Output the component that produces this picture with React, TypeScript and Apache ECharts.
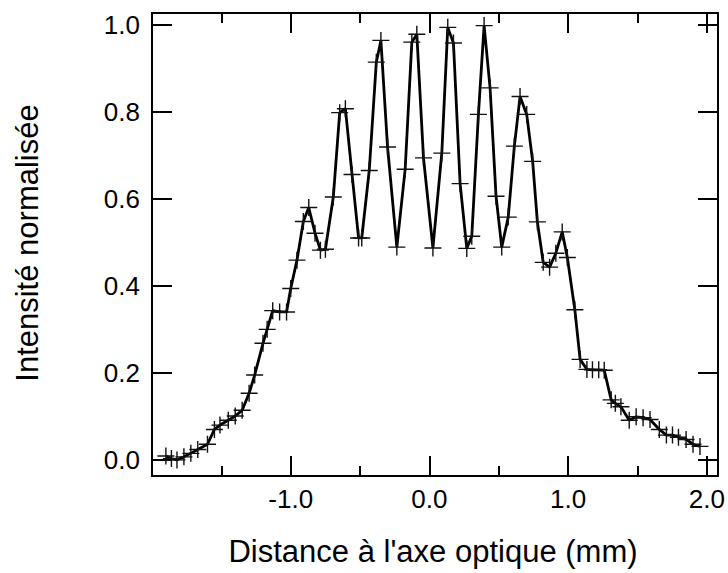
import React, { useEffect, useRef } from "react";
import * as echarts from "echarts";

// Distance to the optical axis (mm)
const distances = [
  -1.90, -1.86, -1.82, -1.77, -1.72, -1.67, -1.60, -1.55, -1.51, -1.45,
  -1.40, -1.35, -1.30, -1.26, -1.20, -1.17, -1.13, -1.08, -1.03, -1.00,
  -0.955, -0.909, -0.870, -0.825, -0.786, -0.750, -0.693, -0.647, -0.606, -0.558,
  -0.511, -0.488, -0.434, -0.383, -0.350, -0.302, -0.235, -0.175, -0.127, -0.091,
  -0.043, 0.025, 0.089, 0.132, 0.173, 0.221, 0.269, 0.305, 0.353, 0.394,
  0.437, 0.480, 0.521, 0.568, 0.612, 0.653, 0.701, 0.744, 0.778, 0.820,
  0.866, 0.911, 0.957, 0.994, 1.048, 1.086, 1.135, 1.175, 1.22, 1.26,
  1.31, 1.34, 1.38, 1.44, 1.49, 1.54, 1.59, 1.657, 1.708, 1.752,
  1.795, 1.85, 1.90, 1.95,
];

// Normalised intensity
const intensities = [
  0.009, 0.003, 0.000, 0.007, 0.015, 0.024, 0.036, 0.070, 0.080, 0.091,
  0.101, 0.114, 0.153, 0.195, 0.268, 0.300, 0.343, 0.340, 0.340, 0.394,
  0.459, 0.548, 0.580, 0.521, 0.482, 0.484, 0.604, 0.798, 0.807, 0.656,
  0.510, 0.510, 0.665, 0.914, 0.964, 0.719, 0.489, 0.668, 0.960, 0.978,
  0.694, 0.487, 0.705, 0.994, 0.958, 0.635, 0.486, 0.514, 0.794, 0.998,
  0.855, 0.606, 0.489, 0.558, 0.721, 0.835, 0.794, 0.686, 0.547, 0.454,
  0.443, 0.475, 0.524, 0.465, 0.345, 0.231, 0.208, 0.207, 0.207, 0.206,
  0.138, 0.130, 0.122, 0.091, 0.099, 0.097, 0.093, 0.070, 0.057, 0.057,
  0.052, 0.047, 0.036, 0.031,
];

const xTickValues = [-1, 0, 1, 2];
const yTickValues = [0, 0.2, 0.4, 0.6, 0.8, 1.0];

const X_MIN = -2.0;
const X_MAX = 2.08;
const Y_MIN = -0.037;
const Y_MAX = 1.027;

const FONT = "Liberation Sans";
const INK = "#000";

function isIn(v: number, list: number[]) {
  return list.some((t) => Math.abs(t - v) < 1e-6);
}

export default function App() {
  const ref = useRef<HTMLDivElement>(null);

  useEffect(() => {
    if (!ref.current) return;
    const chart = echarts.init(ref.current, undefined, { renderer: "svg" });

    const line = { show: true, onZero: false, lineStyle: { color: INK, width: 2 } };
    const noLine = { show: false, onZero: false };

    const xMajor = (pos: "top" | "bottom", labels: boolean) => ({
      type: "value",
      position: pos,
      min: X_MIN,
      max: X_MAX,
      interval: 1,
      axisLine: line,
      axisTick: { show: true, inside: true, length: 20, lineStyle: { color: INK, width: 2 } },
      splitLine: { show: false },
      axisLabel: {
        show: labels,
        margin: 10,
        color: INK,
        fontSize: 26,
        fontFamily: FONT,
        showMinLabel: true,
        showMaxLabel: true,
        formatter: (v: number) => (isIn(v, xTickValues) ? v.toFixed(1) : ""),
      },
    });
    const xMinor = (pos: "top" | "bottom") => ({
      type: "value",
      position: pos,
      min: X_MIN,
      max: X_MAX,
      interval: 0.5,
      axisLine: noLine,
      axisTick: { show: true, inside: true, length: 10, lineStyle: { color: INK, width: 2 } },
      splitLine: { show: false },
      axisLabel: { show: false },
    });
    const yAx = (pos: "left" | "right", labels: boolean) => ({
      type: "value",
      position: pos,
      min: Y_MIN,
      max: Y_MAX,
      splitNumber: 5,
      axisLine: line,
      axisTick: { show: true, inside: true, length: 20, lineStyle: { color: INK, width: 2 } },
      splitLine: { show: false },
      axisLabel: {
        show: labels,
        margin: 12,
        color: INK,
        fontSize: 26,
        fontFamily: FONT,
        showMinLabel: true,
        showMaxLabel: true,
        formatter: (v: number) => (isIn(v, yTickValues) ? v.toFixed(1) : ""),
      },
    });

    const data = distances.map((d, i) => [d, intensities[i]]);

    chart.setOption({
      animation: false,
      backgroundColor: "#fff",
      grid: { left: 152, top: 13, width: 566, height: 463, containLabel: false },
      xAxis: [
        xMajor("bottom", true),
        xMinor("bottom"),
        xMajor("top", false),
        xMinor("top"),
      ],
      yAxis: [yAx("left", true), yAx("right", false)],
      series: [
        {
          type: "line",
          xAxisIndex: 0,
          yAxisIndex: 0,
          data,
          symbol: "path://M9,0L9,18M0,9L18,9",
          symbolSize: 17,
          showAllSymbol: true,
          itemStyle: { color: "none", borderColor: "#111", borderWidth: 1.4 },
          lineStyle: { color: INK, width: 2.8 },
          emphasis: { disabled: true },
        },
      ],
      graphic: [
        {
          type: "text",
          x: 433,
          y: 551,
          style: {
            text: "Distance à l'axe optique (mm)",
            align: "center",
            verticalAlign: "middle",
            fontSize: 31,
            fontFamily: FONT,
            fill: INK,
          },
        },
        {
          type: "text",
          x: 27,
          y: 243,
          rotation: Math.PI / 2,
          style: {
            text: "Intensité normalisée",
            align: "center",
            verticalAlign: "middle",
            fontSize: 31,
            fontFamily: FONT,
            fill: INK,
          },
        },
      ],
    });

    return () => chart.dispose();
  }, []);

  return (
    <div
      ref={ref}
      style={{ position: "fixed", left: 0, top: 0, width: 728, height: 573, background: "#fff" }}
    />
  );
}
